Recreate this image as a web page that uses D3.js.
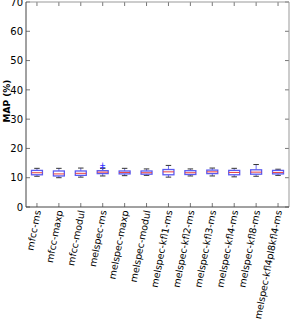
<!DOCTYPE html>
<html>
<head>
<meta charset="utf-8">
<script src="https://cdn.jsdelivr.net/npm/d3@7"></script>
<style>
body { margin: 0; background: #fff; }
text { font-family: "DejaVu Sans", sans-serif; }
</style>
</head>
<body>
<svg width="293" height="319"></svg>
<script>
const CATEGORIES = ["mfcc-ms", "mfcc-maxp", "mfcc-modul", "melspec-ms", "melspec-maxp", "melspec-modul",
  "melspec-kfl1-ms", "melspec-kfl2-ms", "melspec-kfl3-ms", "melspec-kfl4-ms", "melspec-kfl8-ms", "melspec-kfl4pl8kfl4-ms"];
// whisker low, q1, median, q3, whisker high
const LOW    = [10.5, 10.0, 10.2, 10.6, 10.7, 10.8, 10.2, 10.6, 10.6, 10.3, 10.5, 10.8];
const Q1     = [11.0, 10.6, 10.8, 11.4, 11.3, 11.2, 11.0, 11.1, 11.4, 11.0, 11.2, 11.3];
const MEDIAN = [11.7, 11.3, 11.5, 11.9, 11.8, 11.7, 12.0, 11.7, 12.0, 11.8, 11.9, 11.8];
const Q3     = [12.5, 12.3, 12.3, 12.4, 12.3, 12.3, 12.8, 12.4, 12.6, 12.5, 12.7, 12.5];
const HIGH   = [13.2, 13.2, 13.3, 13.2, 13.2, 13.0, 14.2, 13.0, 13.3, 13.2, 14.5, 12.9];
const OUTLIERS = [[], [], [], [14.3, 13.8], [], [], [], [], [], [], [], []];
const Y_TICKS = [0, 10, 20, 30, 40, 50, 60, 70];

const LEFT = 26, RIGHT = 289, TOP = 2, BOTTOM = 207;

const data = CATEGORIES.map((c, i) => ({
  name: c, low: LOW[i], q1: Q1[i], med: MEDIAN[i], q3: Q3[i], high: HIGH[i], out: OUTLIERS[i]
}));

const svg = d3.select('svg');

const x = d3.scaleBand().domain(CATEGORIES).range([LEFT, RIGHT]);
const y = d3.scaleLinear().domain([0, 70]).range([BOTTOM, TOP]);

// ticks inside on all sides
const tickG = svg.append('g');
Y_TICKS.forEach(t => {
  tickG.append('line').attr('x1', LEFT).attr('x2', LEFT + 4).attr('y1', y(t)).attr('y2', y(t)).attr('stroke', '#555').attr('stroke-width', 0.8);
  tickG.append('line').attr('x1', RIGHT).attr('x2', RIGHT - 4).attr('y1', y(t)).attr('y2', y(t)).attr('stroke', '#555').attr('stroke-width', 0.8);
});
CATEGORIES.forEach(c => {
  const cx = x(c) + x.bandwidth() / 2;
  tickG.append('line').attr('x1', cx).attr('x2', cx).attr('y1', BOTTOM).attr('y2', BOTTOM - 4).attr('stroke', '#555').attr('stroke-width', 0.8);
  tickG.append('line').attr('x1', cx).attr('x2', cx).attr('y1', TOP).attr('y2', TOP + 4).attr('stroke', '#555').attr('stroke-width', 0.8);
});

// y axis labels
const yAxis = svg.append('g')
  .attr('transform', `translate(${LEFT},0)`)
  .call(d3.axisLeft(y).tickValues(Y_TICKS).tickSize(0).tickPadding(3));
yAxis.select('.domain').remove();
yAxis.selectAll('text').attr('font-size', 10).attr('fill', '#000').style('font-family', 'DejaVu Sans');

// x labels
const xAxis = svg.append('g')
  .attr('transform', `translate(0,${BOTTOM})`)
  .call(d3.axisBottom(x).tickSize(0).tickPadding(0));
xAxis.select('.domain').remove();
xAxis.selectAll('text')
  .attr('font-size', 9.5)
  .attr('fill', '#000')
  .style('font-family', 'DejaVu Sans')
  .attr('text-anchor', 'end')
  .attr('dy', null)
  .attr('y', 0)
  .attr('transform', 'translate(4,4) rotate(-79)');

// y title
svg.append('text')
  .text('MAP (%)')
  .attr('font-size', 9)
  .attr('font-weight', 'bold')
  .attr('text-anchor', 'middle')
  .attr('transform', `translate(10,101) rotate(-90)`);

// boxes
const bw = x.bandwidth() * 0.5;
const boxes = svg.append('g').selectAll('g').data(data).enter().append('g')
  .attr('transform', d => `translate(${x(d.name) + x.bandwidth() / 2},0)`);

boxes.append('line').attr('y1', d => y(d.low)).attr('y2', d => y(d.q1))
  .attr('stroke', '#7070f0').attr('stroke-width', 1);
boxes.append('line').attr('y1', d => y(d.q3)).attr('y2', d => y(d.high))
  .attr('stroke', '#7070f0').attr('stroke-width', 1);
boxes.append('line').attr('x1', -bw / 4).attr('x2', bw / 4).attr('y1', d => y(d.low)).attr('y2', d => y(d.low))
  .attr('stroke', '#333').attr('stroke-width', 1);
boxes.append('line').attr('x1', -bw / 4).attr('x2', bw / 4).attr('y1', d => y(d.high)).attr('y2', d => y(d.high))
  .attr('stroke', '#333').attr('stroke-width', 1);
boxes.append('rect')
  .attr('x', -bw / 2).attr('width', bw)
  .attr('y', d => y(d.q3)).attr('height', d => y(d.q1) - y(d.q3))
  .attr('fill', '#fff').attr('stroke', '#5a5af0').attr('stroke-width', 1.3);
boxes.append('line').attr('x1', -bw / 2).attr('x2', bw / 2).attr('y1', d => y(d.med)).attr('y2', d => y(d.med))
  .attr('stroke', '#e84040').attr('stroke-width', 1);
boxes.selectAll('.out').data(d => d.out).enter().append('text')
  .attr('class', 'out').text('+')
  .attr('y', v => y(v) + 3).attr('text-anchor', 'middle')
  .attr('font-size', 8).attr('fill', '#3333ff');

// frame
svg.append('line').attr('x1', LEFT).attr('x2', RIGHT).attr('y1', TOP).attr('y2', TOP).attr('stroke', '#999');
svg.append('line').attr('x1', RIGHT).attr('x2', RIGHT).attr('y1', TOP).attr('y2', BOTTOM).attr('stroke', '#999');
svg.append('line').attr('x1', LEFT).attr('x2', LEFT).attr('y1', TOP).attr('y2', BOTTOM).attr('stroke', '#444');
svg.append('line').attr('x1', LEFT).attr('x2', RIGHT).attr('y1', BOTTOM).attr('y2', BOTTOM).attr('stroke', '#444');
</script>
</body>
</html>
